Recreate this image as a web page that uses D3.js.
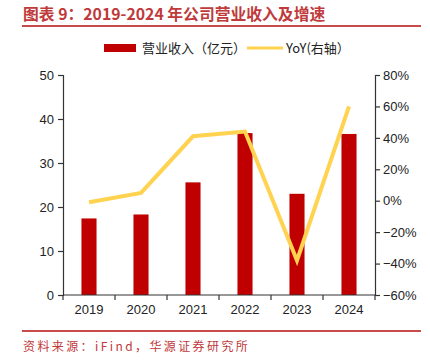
<!DOCTYPE html>
<html><head><meta charset="utf-8">
<script src="https://cdn.jsdelivr.net/npm/d3@7/dist/d3.min.js"></script>
<style>body{margin:0;background:#fff;} svg{display:block;}</style>
</head><body>
<svg id="c" width="430" height="364"></svg>
<script>
const years = ["2019","2020","2021","2022","2023","2024"];
const revenue = [17.4, 18.3, 25.6, 36.8, 23.0, 36.6];
const yoy = [-1, 5, 41, 44, -38, 60];
const leftTicks = [0,10,20,30,40,50];
const rightTicks = [-60,-40,-20,0,20,40,60,80];
const titleText = "图表 9：2019-2024 年公司营业收入及增速";
const sourceText = "资料来源：iFind，华源证券研究所";
const legendLabels = ["营业收入（亿元）", "YoY(右轴）"];

const svg = d3.select("#c");
const font = "'Liberation Sans', Arial, sans-serif";
const cjk = "'Noto Sans CJK SC', sans-serif";
const red = "#c00000", yellow = "#ffd34f", titleRed = "#c0393b";

const x0 = 63, x1 = 375, yTop = 75, yBot = 295;
const x = d3.scaleBand().domain(years).range([x0, x1]).paddingInner(0.71).paddingOuter(0.355);
const xc = d3.scalePoint().domain(years).range([x0, x1]).padding(0.5);
const yL = d3.scaleLinear().domain([0,50]).range([yBot, yTop]);
const yR = d3.scaleLinear().domain([-60,80]).range([yBot, yTop]);

// title
svg.append("text").attr("x",23).attr("y",20).attr("fill",titleRed)
  .attr("font-family",cjk).attr("font-weight","bold").attr("font-size",15.8).text(titleText);
svg.append("line").attr("x1",22).attr("x2",421).attr("y1",26).attr("y2",26).attr("stroke","#c84b4b").attr("stroke-width",2);

// bars
svg.selectAll("rect.bar").data(years).enter().append("rect").attr("class","bar")
  .attr("x",d=>x(d)).attr("width",x.bandwidth())
  .attr("y",(d,i)=>yL(revenue[i])).attr("height",(d,i)=>yBot-yL(revenue[i]))
  .attr("fill",red);

// line
const line = d3.line().x((d,i)=>xc(years[i])).y(d=>yR(d));
svg.append("path").datum(yoy).attr("d",line).attr("fill","none")
  .attr("stroke",yellow).attr("stroke-width",4).attr("stroke-linejoin","miter");

// axes
const axL = svg.append("g").attr("transform",`translate(${x0},0)`)
  .call(d3.axisLeft(yL).tickValues(leftTicks).tickSize(5).tickPadding(4));
const axR = svg.append("g").attr("transform",`translate(${x1},0)`)
  .call(d3.axisRight(yR).tickValues(rightTicks).tickSize(5).tickPadding(3).tickFormat(d=>(d<0?"\u2212"+(-d):d)+"%"));
const axX = svg.append("g").attr("transform",`translate(0,${yBot})`)
  .call(d3.axisBottom(x).tickSize(0).tickPadding(10));
const bounds = d3.range(years.length+1).map(i=>x0+i*(x1-x0)/years.length);
svg.selectAll("line.xt").data(bounds).enter().append("line")
  .attr("x1",d=>d).attr("x2",d=>d).attr("y1",yBot).attr("y2",yBot+5).attr("stroke","#333").attr("stroke-width",1.2);

[axL,axR,axX].forEach(g=>{
  g.selectAll("path.domain").attr("stroke","#333").attr("stroke-width",1.2);
  g.selectAll(".tick line").attr("stroke","#333").attr("stroke-width",1.2);
  g.selectAll("text").attr("font-family",font).attr("font-size",13).attr("fill","#222");
});
axX.select("path.domain").attr("d",`M${x0},0H${x1}`);

// legend
svg.append("rect").attr("x",104).attr("y",44).attr("width",32).attr("height",8).attr("fill",red);
svg.append("text").attr("x",142).attr("y",53).attr("font-family",cjk).attr("font-size",13).attr("fill","#222").text(legendLabels[0]);
svg.append("line").attr("x1",247).attr("x2",283).attr("y1",48).attr("y2",48).attr("stroke",yellow).attr("stroke-width",3);
svg.append("text").attr("x",286).attr("y",53).attr("font-family",cjk).attr("font-size",13).attr("fill","#222").text(legendLabels[1]);

// source
svg.append("line").attr("x1",22).attr("x2",421).attr("y1",331).attr("y2",331).attr("stroke","#c84b4b").attr("stroke-width",2);
svg.append("text").attr("x",23).attr("y",351).attr("font-family",cjk).attr("font-size",12).attr("fill","#c0393b").attr("letter-spacing",2.4).text(sourceText);
</script>
</body></html>
